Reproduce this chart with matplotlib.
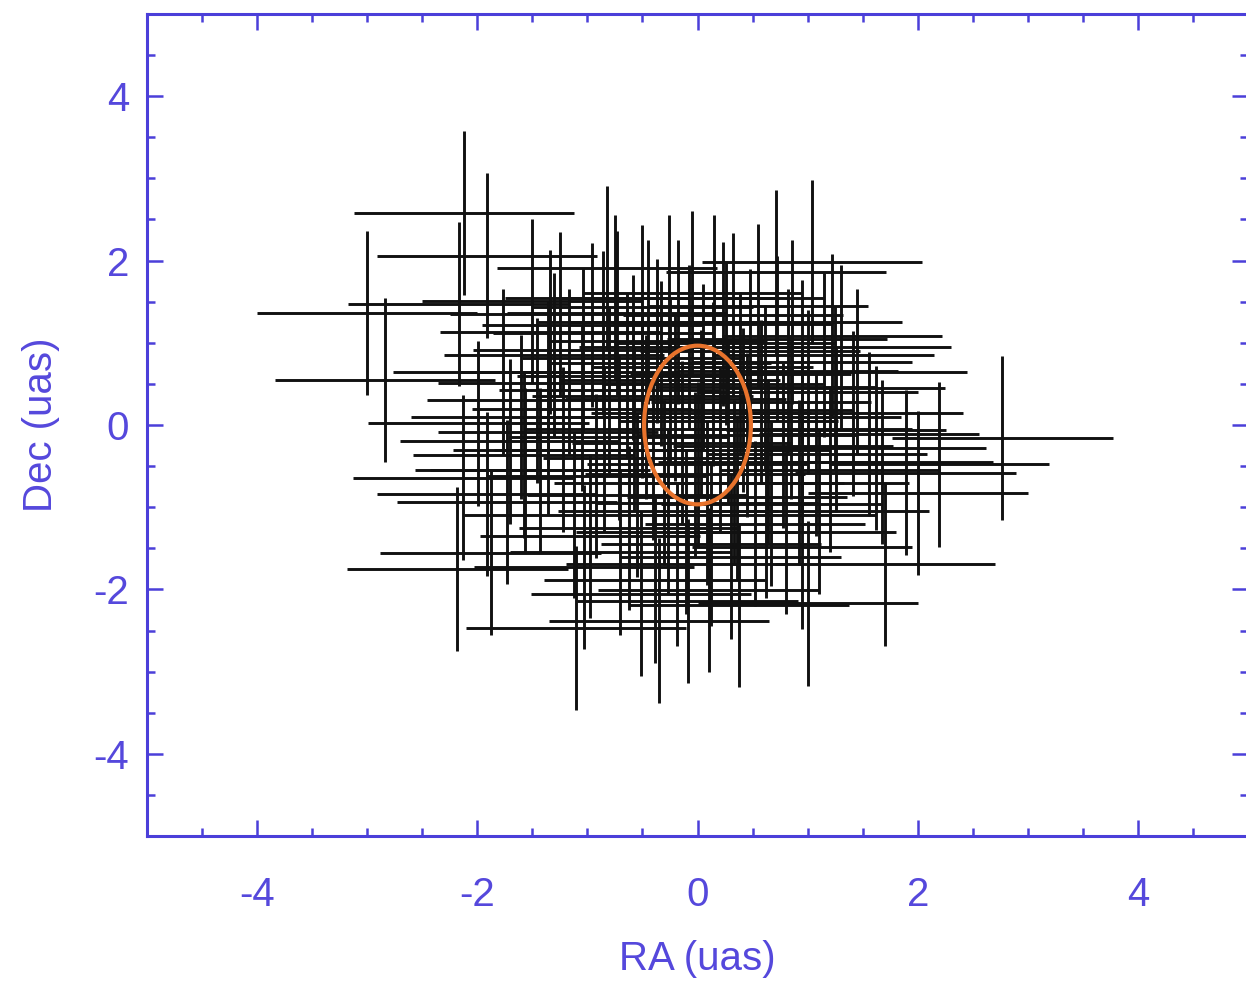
import matplotlib
matplotlib.use('Agg')
import matplotlib.pyplot as plt
from matplotlib.patches import Ellipse
from matplotlib.ticker import MultipleLocator

# offsets in micro-arcseconds, one cross per measurement
ra = [-2.12, -1.91, -3.00, -2.84, -2.17, -1.50, -0.82, -1.77, -1.34, -1.99,
      -1.46, -0.73, -1.04, -0.96, -0.59, -1.36, -2.13, -1.36, -1.58, -1.57,
      -1.91, -1.73, -2.18, -1.88, -1.10, -1.43, -0.51, -1.03, -0.35, -0.39,
      -0.19, -0.09, 0.10, 0.38, 1.00, 0.95, 2.77, 2.19, 1.89, 2.00,
      1.62, 1.56, 1.70, 1.26, 1.41, 0.67, 1.04, 0.71, 0.86, 1.22,
      0.95, 0.82, 1.25, 1.68, -0.50, -0.26, -0.05, 0.32, 0.23, -0.86,
      -0.37, 0.05, -1.17, 0.61, 0.41,
      -1.22, -1.05, -0.92, -0.80, -0.71, -0.64, -0.55, -0.47, -0.40, -0.33,
      -0.27, -0.20, -0.14, -0.08, -0.02, 0.03, 0.09, 0.14, 0.20, 0.26,
      0.33, 0.39, 0.45, 0.52, 0.58, 0.64, 0.72, 0.78, 0.85, 0.92,
      1.00, 1.08, 1.15, -1.12, -0.98, -0.85, -0.75, -0.62, -0.50, -0.30,
      -0.18, 0.00, 0.12, 0.28, 0.48, 0.62, 0.80, 1.10, 1.30, 1.45,
      -1.30, -1.60, -1.70, -0.70, 0.30, -0.10, 0.55, -0.45, 0.15, -1.25,
      1.20, 0.95, -0.58, 0.36, -0.25]
dec = [2.58, 2.06, 1.36, 0.55, 1.47, 1.51, 1.91, 0.65, 1.13, 0.02,
       0.30, 1.36, 0.91, 1.22, 0.82, 0.51, -0.64, -0.09, -0.37, -0.55,
       -0.84, -0.94, -1.75, -1.56, -2.47, -0.55, -2.05, -1.73, -2.38, -1.89,
       -1.69, -2.14, -2.01, -2.19, -2.17, -1.48, -0.16, -0.48, -0.58, -0.83,
       -0.28, -0.11, -1.69, -0.06, 0.14, -0.96, 1.98, 1.86, 1.25, 1.08,
       0.77, 0.66, 0.45, -0.45, 1.43, 1.55, 1.60, 1.34, 1.23, 1.12,
       1.02, 0.71, 0.65, 0.46, 0.18,
       -0.30, 0.20, -0.62, 0.42, -0.15, 0.60, -0.85, 0.10, -0.40, 0.75,
       -1.05, 0.32, -0.22, 0.95, -0.60, 0.15, -0.95, 0.50, -0.30, 1.00,
       -0.70, 0.62, -0.12, -1.20, 0.28, -0.45, 1.05, -0.25, 0.10, -0.70,
       0.40, -0.35, 0.85, -1.10, -1.35, -0.30, 1.55, -1.25, 0.35, -0.70,
       1.25, -0.48, -1.45, 0.05, 0.90, -1.10, -1.30, -1.05, 0.95, 0.65,
       0.85, 0.10, -0.20, -1.55, -1.60, -1.30, 1.45, 1.25, 1.55, 1.35,
       -0.55, -0.05, -0.05, -0.88, 0.55]
ra_err = 1.0
dec_err = 1.0

# 1-sigma ellipse around the origin
ell_ra, ell_dec = 0.0, 0.0
ell_w, ell_h = 0.97, 1.93

axis_blue = '#4b3fd9'
text_blue = '#5548dc'

plt.rcParams['font.family'] = ['Liberation Sans', 'DejaVu Sans']
plt.rcParams['axes.unicode_minus'] = False

fig = plt.figure(figsize=(12.46, 9.83), dpi=100)
ax = fig.add_axes([147 / 1246, 1 - 836 / 983, 1101 / 1246, 822 / 983])

ax.errorbar(ra, dec, xerr=ra_err, yerr=dec_err, fmt='none',
            ecolor='#111111', elinewidth=2.1, capsize=0, zorder=2)
ax.add_patch(Ellipse((ell_ra, ell_dec), ell_w, ell_h, fill=False,
                     edgecolor='#e8732c', linewidth=3.0, zorder=3))

ax.set_xlim(-5, 5)
ax.set_ylim(-5, 5)
ax.xaxis.set_minor_locator(MultipleLocator(0.5))
ax.yaxis.set_minor_locator(MultipleLocator(0.5))
ax.set_xticks([-4, -2, 0, 2, 4])
ax.set_yticks([-4, -2, 0, 2, 4])

for s in ax.spines.values():
    s.set_color(axis_blue)
    s.set_linewidth(2.2)

ax.tick_params(which='both', direction='in', top=True, right=True,
               color=axis_blue, width=1.8)
ax.tick_params(which='major', length=11.5, labelsize=29, labelcolor=text_blue)
ax.tick_params(which='minor', length=5.8)
ax.tick_params(axis='x', which='major', pad=29)
ax.tick_params(axis='y', which='major', pad=13)

ax.set_xlabel('RA (uas)', fontsize=29, color=text_blue)
ax.set_ylabel('Dec (uas)', fontsize=29, color=text_blue)
ax.xaxis.set_label_coords(0.5, -0.126)
ax.yaxis.set_label_coords(-0.079, 0.5)

fig.savefig('out.png', dpi=100, facecolor='white')
